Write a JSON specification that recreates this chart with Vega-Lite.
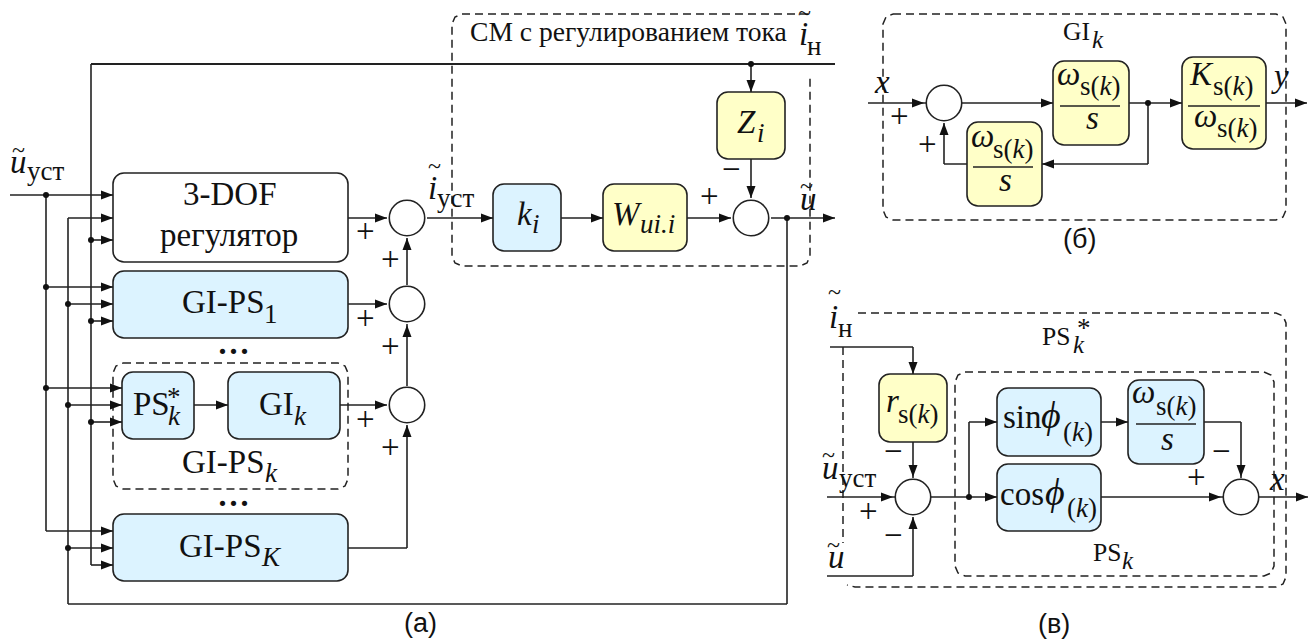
{
"$schema":"https://vega.github.io/schema/vega-lite/v6.json",
"width":1315,"height":639,"padding":0,"autosize":"none","background":"white",
"config":{"view":{"stroke":null}},
"datasets":{
"outlines":[
{"id":"cm","o":1,"x":808,"y":14},{"id":"cm","o":2,"x":462,"y":14},{"id":"cm","o":3,"x":455,"y":17},{"id":"cm","o":4,"x":452,"y":24},{"id":"cm","o":5,"x":452,"y":256},{"id":"cm","o":6,"x":455,"y":263},{"id":"cm","o":7,"x":462,"y":266},{"id":"cm","o":8,"x":800,"y":266},{"id":"cm","o":9,"x":807,"y":263},{"id":"cm","o":10,"x":810,"y":256},{"id":"cm","o":11,"x":810,"y":75},
{"id":"gps","o":1,"x":123,"y":363},{"id":"gps","o":2,"x":338,"y":363},{"id":"gps","o":3,"x":345,"y":366},{"id":"gps","o":4,"x":348,"y":373},{"id":"gps","o":5,"x":348,"y":479},{"id":"gps","o":6,"x":345,"y":486},{"id":"gps","o":7,"x":338,"y":489},{"id":"gps","o":8,"x":123,"y":489},{"id":"gps","o":9,"x":116,"y":486},{"id":"gps","o":10,"x":113,"y":479},{"id":"gps","o":11,"x":113,"y":373},{"id":"gps","o":12,"x":116,"y":366},{"id":"gps","o":13,"x":123,"y":363},
{"id":"gi","o":1,"x":893,"y":14},{"id":"gi","o":2,"x":1276,"y":14},{"id":"gi","o":3,"x":1283,"y":17},{"id":"gi","o":4,"x":1286,"y":24},{"id":"gi","o":5,"x":1286,"y":210},{"id":"gi","o":6,"x":1283,"y":217},{"id":"gi","o":7,"x":1276,"y":220},{"id":"gi","o":8,"x":893,"y":220},{"id":"gi","o":9,"x":886,"y":217},{"id":"gi","o":10,"x":883,"y":210},{"id":"gi","o":11,"x":883,"y":24},{"id":"gi","o":12,"x":886,"y":17},{"id":"gi","o":13,"x":893,"y":14},
{"id":"ps","o":1,"x":965,"y":372},{"id":"ps","o":2,"x":1264,"y":372},{"id":"ps","o":3,"x":1271,"y":375},{"id":"ps","o":4,"x":1274,"y":382},{"id":"ps","o":5,"x":1274,"y":566},{"id":"ps","o":6,"x":1271,"y":573},{"id":"ps","o":7,"x":1264,"y":576},{"id":"ps","o":8,"x":965,"y":576},{"id":"ps","o":9,"x":958,"y":573},{"id":"ps","o":10,"x":955,"y":566},{"id":"ps","o":11,"x":955,"y":382},{"id":"ps","o":12,"x":958,"y":375},{"id":"ps","o":13,"x":965,"y":372},
{"id":"pss","o":1,"x":858,"y":313},{"id":"pss","o":2,"x":1276,"y":313},{"id":"pss","o":3,"x":1283,"y":316},{"id":"pss","o":4,"x":1286,"y":323},{"id":"pss","o":5,"x":1286,"y":577},{"id":"pss","o":6,"x":1283,"y":584},{"id":"pss","o":7,"x":1276,"y":587},{"id":"pss","o":8,"x":855,"y":587},{"id":"pss","o":9,"x":847,"y":585},
{"id":"pss2","o":1,"x":843,"y":347},{"id":"pss2","o":2,"x":843,"y":543}
],
"wires":[
{"g":"bus","x":91,"y":64,"x2":835,"y2":64},
{"g":"wire","x":10,"y":195,"x2":113,"y2":195},{"g":"wire","x":46,"y":195,"x2":46,"y2":531},{"g":"wire","x":46,"y":531,"x2":113,"y2":531},
{"g":"wire","x":68,"y":218,"x2":113,"y2":218},{"g":"wire","x":68,"y":218,"x2":68,"y2":604},{"g":"wire","x":68,"y":604,"x2":787,"y2":604},{"g":"wire","x":787,"y":218,"x2":787,"y2":604},
{"g":"wire","x":91,"y":64,"x2":91,"y2":565},{"g":"wire","x":91,"y":565,"x2":113,"y2":565},{"g":"wire","x":91,"y":240,"x2":113,"y2":240},
{"g":"wire","x":46,"y":287,"x2":113,"y2":287},{"g":"wire","x":68,"y":304,"x2":113,"y2":304},{"g":"wire","x":91,"y":321,"x2":113,"y2":321},
{"g":"wire","x":46,"y":388,"x2":122,"y2":388},{"g":"wire","x":68,"y":405,"x2":122,"y2":405},{"g":"wire","x":91,"y":422,"x2":122,"y2":422},
{"g":"wire","x":68,"y":548,"x2":113,"y2":548},
{"g":"wire","x":348,"y":218,"x2":387,"y2":218},{"g":"wire","x":348,"y":304,"x2":387,"y2":304},{"g":"wire","x":340,"y":405,"x2":387,"y2":405},{"g":"wire","x":194,"y":405,"x2":228,"y2":405},
{"g":"wire","x":348,"y":548,"x2":407,"y2":548},{"g":"wire","x":407,"y":548,"x2":407,"y2":425},{"g":"wire","x":407,"y":386,"x2":407,"y2":324},{"g":"wire","x":407,"y":285,"x2":407,"y2":238},
{"g":"wire","x":427,"y":218,"x2":731,"y2":218},{"g":"wire","x":771,"y":218,"x2":835,"y2":218},{"g":"wire","x":751,"y":64,"x2":751,"y2":198},
{"g":"wire","x":868,"y":103,"x2":1307,"y2":103},{"g":"wire","x":1148,"y":103,"x2":1148,"y2":164},{"g":"wire","x":944,"y":164,"x2":1148,"y2":164},{"g":"wire","x":944,"y":164,"x2":944,"y2":123},
{"g":"wire","x":830,"y":347,"x2":913,"y2":347},{"g":"wire","x":913,"y":347,"x2":913,"y2":478},{"g":"wire","x":827,"y":497,"x2":1308,"y2":497},{"g":"wire","x":969,"y":497,"x2":969,"y2":422},{"g":"wire","x":969,"y":422,"x2":1128,"y2":422},{"g":"wire","x":1204,"y":422,"x2":1241,"y2":422},{"g":"wire","x":1241,"y":422,"x2":1241,"y2":478},{"g":"wire","x":827,"y":576,"x2":913,"y2":576},{"g":"wire","x":913,"y":576,"x2":913,"y2":517}
],
"boxes":[
{"k":"plain","x":113,"y":173,"x2":348,"y2":262},
{"k":"blue","x":113,"y":271,"x2":348,"y2":338},
{"k":"blue","x":122,"y":372,"x2":194,"y2":439},
{"k":"blue","x":228,"y":372,"x2":340,"y2":439},
{"k":"blue","x":113,"y":514,"x2":348,"y2":581},
{"k":"blue","x":493,"y":184,"x2":561,"y2":251},
{"k":"yellow","x":603,"y":184,"x2":687,"y2":251},
{"k":"yellow","x":717,"y":92,"x2":785,"y2":159},
{"k":"yellow","x":1053,"y":61,"x2":1129,"y2":145},
{"k":"yellow","x":1182,"y":57,"x2":1266,"y2":149},
{"k":"yellow","x":967,"y":122,"x2":1042,"y2":206},
{"k":"yellow","x":879,"y":374,"x2":947,"y2":442},
{"k":"blue","x":997,"y":388,"x2":1101,"y2":456},
{"k":"blue","x":997,"y":464,"x2":1101,"y2":531},
{"k":"blue","x":1128,"y":380,"x2":1204,"y2":464}
],
"fractions":[
{"x":1060,"y":106,"x2":1120,"y2":106},{"x":1188,"y":106,"x2":1260,"y2":106},{"x":973,"y":167,"x2":1033,"y2":167},{"x":1136,"y":424,"x2":1196,"y2":424}
],
"circles":[{"x":407,"y":218},{"x":407,"y":304},{"x":407,"y":405},{"x":751,"y":218},{"x":944,"y":103},{"x":913,"y":497},{"x":1241,"y":497}],
"dots":[{"x":46,"y":195},{"x":91,"y":240},{"x":46,"y":287},{"x":68,"y":304},{"x":91,"y":321},{"x":46,"y":388},{"x":68,"y":405},{"x":91,"y":422},{"x":68,"y":548},{"x":751,"y":64},{"x":787,"y":218},{"x":1148,"y":103},{"x":969,"y":497}],
"arrows":[
{"d":"right","x":113,"y":195},{"d":"right","x":113,"y":218},{"d":"right","x":113,"y":240},{"d":"right","x":113,"y":287},{"d":"right","x":113,"y":304},{"d":"right","x":113,"y":321},{"d":"right","x":122,"y":388},{"d":"right","x":122,"y":405},{"d":"right","x":122,"y":422},{"d":"right","x":113,"y":531},{"d":"right","x":113,"y":548},{"d":"right","x":113,"y":565},{"d":"right","x":387,"y":218},{"d":"right","x":387,"y":304},{"d":"right","x":387,"y":405},{"d":"right","x":228,"y":405},{"d":"right","x":493,"y":218},{"d":"right","x":603,"y":218},{"d":"right","x":731,"y":218},{"d":"right","x":835,"y":218},
{"d":"up","x":407,"y":238},{"d":"up","x":407,"y":325},{"d":"up","x":407,"y":425},
{"d":"down","x":751,"y":92},{"d":"down","x":751,"y":198},
{"d":"right","x":924,"y":103},{"d":"right","x":1053,"y":103},{"d":"right","x":1182,"y":103},{"d":"right","x":1307,"y":103},{"d":"left","x":1042,"y":164},{"d":"up","x":944,"y":123},
{"d":"down","x":913,"y":374},{"d":"down","x":913,"y":477},{"d":"down","x":1241,"y":477},{"d":"up","x":913,"y":517},
{"d":"right","x":893,"y":497},{"d":"right","x":997,"y":497},{"d":"right","x":997,"y":422},{"d":"right","x":1128,"y":422},{"d":"right","x":1221,"y":497},{"d":"right","x":1308,"y":497}
],
"serif":[
{"t":"3-DOF","x":183,"y":205,"r":"main"},{"t":"регулятор","x":160,"y":246,"r":"main"},
{"t":"GI-PS","x":182,"y":313,"r":"main"},{"t":"1","x":264,"y":323,"r":"sub"},
{"t":"PS","x":133,"y":415,"r":"main"},{"t":"*","x":167,"y":406,"r":"sub"},
{"t":"GI","x":259,"y":415,"r":"main"},
{"t":"GI-PS","x":182,"y":473,"r":"main"},{"t":"GI-PS","x":179,"y":557,"r":"main"},
{"t":"...","x":217,"y":354,"r":"dots"},{"t":"...","x":217,"y":506,"r":"dots"},
{"t":"уст","x":27,"y":180,"r":"sub"},{"t":"уст","x":437,"y":207,"r":"sub"},{"t":"уст","x":839,"y":487,"r":"sub"},
{"t":"н","x":807,"y":55,"r":"sub"},{"t":"н","x":838,"y":337,"r":"sub"},
{"t":"СМ с регулированием тока","x":470,"y":41,"r":"note"},
{"t":"GI","x":1063,"y":40,"r":"label"},{"t":"PS","x":1042,"y":345,"r":"label"},{"t":"PS","x":1093,"y":561,"r":"label"},
{"t":"*","x":1077,"y":337,"r":"sub"},
{"t":"~","x":12,"y":158,"r":"tilde"},{"t":"~","x":428,"y":174,"r":"tilde"},{"t":"~","x":798,"y":21,"r":"tilde"},{"t":"~","x":800,"y":194,"r":"tilde"},{"t":"~","x":828,"y":300,"r":"tilde"},{"t":"~","x":822,"y":463,"r":"tilde"},{"t":"~","x":827,"y":553,"r":"tilde"},
{"t":"+","x":356,"y":242,"r":"main"},{"t":"+","x":381,"y":270,"r":"main"},{"t":"+","x":356,"y":329,"r":"main"},{"t":"+","x":381,"y":357,"r":"main"},{"t":"+","x":356,"y":430,"r":"main"},{"t":"+","x":381,"y":458,"r":"main"},{"t":"+","x":700,"y":207,"r":"main"},{"t":"−","x":722,"y":180,"r":"main"},
{"t":"+","x":890,"y":127,"r":"main"},{"t":"+","x":918,"y":155,"r":"main"},
{"t":"+","x":859,"y":522,"r":"main"},{"t":"−","x":884,"y":462,"r":"main"},{"t":"−","x":884,"y":546,"r":"main"},{"t":"−","x":1212,"y":462,"r":"main"},{"t":"+","x":1187,"y":488,"r":"main"},
{"t":"s(","x":1080,"y":95,"r":"sub"},{"t":")","x":1111.5,"y":95,"r":"sub"},
{"t":"s(","x":1213,"y":95,"r":"sub"},{"t":")","x":1244.5,"y":95,"r":"sub"},
{"t":"s(","x":1217,"y":137,"r":"sub"},{"t":")","x":1248.5,"y":137,"r":"sub"},
{"t":"s(","x":993,"y":158,"r":"sub"},{"t":")","x":1024.5,"y":158,"r":"sub"},
{"t":"s(","x":898,"y":423,"r":"sub"},{"t":")","x":929.5,"y":423,"r":"sub"},
{"t":"s(","x":1156,"y":415,"r":"sub"},{"t":")","x":1187.5,"y":415,"r":"sub"},
{"t":"sin","x":1003,"y":428,"r":"main"},{"t":"cos","x":1000,"y":505,"r":"main"},
{"t":"(","x":1063,"y":441,"r":"sub"},{"t":")","x":1084,"y":441,"r":"sub"},
{"t":"(","x":1067,"y":517,"r":"sub"},{"t":")","x":1088,"y":517,"r":"sub"}
],
"italic":[
{"t":"u","x":10,"y":173,"r":"main"},{"t":"i","x":428,"y":199,"r":"main"},{"t":"i","x":799,"y":45,"r":"main"},{"t":"u","x":800,"y":210,"r":"main"},{"t":"i","x":829,"y":328,"r":"main"},{"t":"u","x":822,"y":479,"r":"main"},{"t":"u","x":828,"y":568,"r":"main"},
{"t":"k","x":168,"y":425,"r":"sub"},{"t":"k","x":294,"y":425,"r":"sub"},{"t":"k","x":265,"y":482,"r":"sub"},{"t":"K","x":262,"y":566,"r":"sub"},
{"t":"k","x":517,"y":225,"r":"main"},{"t":"i","x":532,"y":233,"r":"sub"},
{"t":"W","x":612,"y":225,"r":"main"},{"t":"ui.i","x":640,"y":233,"r":"sub"},
{"t":"Z","x":737,"y":133,"r":"main"},{"t":"i","x":757,"y":142,"r":"sub"},
{"t":"k","x":1092,"y":48,"r":"labelsub"},{"t":"k","x":1073,"y":353,"r":"labelsub"},{"t":"k","x":1122,"y":569,"r":"labelsub"},
{"t":"x","x":875,"y":93,"r":"main"},{"t":"y","x":1274,"y":87,"r":"main"},{"t":"x","x":1270,"y":490,"r":"main"},
{"t":"ω","x":1057,"y":85,"r":"main"},{"t":"k","x":1099.5,"y":95,"r":"sub"},{"t":"s","x":1086,"y":129,"r":"main"},
{"t":"K","x":1190,"y":85,"r":"main"},{"t":"k","x":1232.5,"y":95,"r":"sub"},
{"t":"ω","x":1194,"y":127,"r":"main"},{"t":"k","x":1236.5,"y":137,"r":"sub"},
{"t":"ω","x":971,"y":147,"r":"main"},{"t":"k","x":1012.5,"y":158,"r":"sub"},{"t":"s","x":999,"y":191,"r":"main"},
{"t":"r","x":886,"y":412,"r":"main"},{"t":"k","x":917.5,"y":423,"r":"sub"},
{"t":"ω","x":1132,"y":403,"r":"main"},{"t":"k","x":1175.5,"y":415,"r":"sub"},{"t":"s","x":1161,"y":450,"r":"main"},
{"t":"ϕ","x":1041,"y":428,"r":"phi"},{"t":"k","x":1072,"y":441,"r":"sub"},
{"t":"ϕ","x":1045,"y":505,"r":"phi"},{"t":"k","x":1076,"y":517,"r":"sub"}
],
"captions":[{"t":"(а)","x":404,"y":632},{"t":"(б)","x":1063,"y":248},{"t":"(в)","x":1038,"y":633}]
},
"encoding":{
"x":{"field":"x","type":"quantitative","scale":{"domain":[0,1315],"nice":false,"zero":false},"axis":null},
"y":{"field":"y","type":"quantitative","scale":{"domain":[639,0],"nice":false,"zero":false},"axis":null}
},
"layer":[
{"data":{"name":"outlines"},"mark":{"type":"line","stroke":"#222222","strokeWidth":1.5,"strokeDash":[8,5]},"encoding":{"detail":{"field":"id"},"order":{"field":"o","type":"quantitative"}}},
{"data":{"name":"wires"},"mark":{"type":"rule","stroke":"#222222"},"encoding":{"x2":{"field":"x2"},"y2":{"field":"y2"},"strokeWidth":{"field":"g","type":"ordinal","scale":{"type":"ordinal","domain":["wire","bus"],"range":[1.6,2.2]},"legend":null}}},
{"data":{"name":"boxes"},"mark":{"type":"rect","cornerRadius":11,"stroke":"#222222","strokeWidth":1.6},"encoding":{"x2":{"field":"x2"},"y2":{"field":"y2"},"color":{"field":"k","type":"nominal","scale":{"domain":["plain","blue","yellow"],"range":["#ffffff","#dcf3ff","#ffffc8"]},"legend":null}}},
{"data":{"name":"fractions"},"mark":{"type":"rule","stroke":"#222222","strokeWidth":1.6},"encoding":{"x2":{"field":"x2"},"y2":{"field":"y2"}}},
{"data":{"name":"circles"},"mark":{"type":"point","shape":"circle","filled":true,"fill":"#ffffff","stroke":"#222222","strokeWidth":1.6,"opacity":1,"size":1257},"encoding":{}},
{"data":{"name":"arrows"},"mark":{"type":"point","shape":"M0,0L-2,-0.75L-2,0.75Z","filled":true,"fill":"#111111","strokeWidth":0,"opacity":1,"size":144},"encoding":{"angle":{"field":"d","type":"ordinal","scale":{"type":"ordinal","domain":["right","down","left","up"],"range":[0,90,180,270]},"legend":null}}},
{"data":{"name":"dots"},"mark":{"type":"point","shape":"circle","filled":true,"fill":"#111111","strokeWidth":0,"opacity":1,"size":36},"encoding":{}},
{"data":{"name":"serif"},"mark":{"type":"text","font":"Liberation Serif","align":"left","baseline":"alphabetic","fill":"#111111"},"encoding":{"text":{"field":"t"},"size":{"field":"r","type":"ordinal","scale":{"type":"ordinal","domain":["main","sub","label","labelsub","tilde","dots","note","phi"],"range":[33,27,25.6,25,24,44,27.6,38]},"legend":null}}},
{"data":{"name":"italic"},"mark":{"type":"text","font":"Liberation Serif","fontStyle":"italic","align":"left","baseline":"alphabetic","fill":"#111111"},"encoding":{"text":{"field":"t"},"size":{"field":"r","type":"ordinal","scale":{"type":"ordinal","domain":["main","sub","label","labelsub","tilde","dots","note","phi"],"range":[33,27,25.6,25,24,44,27.6,38]},"legend":null}}},
{"data":{"name":"captions"},"mark":{"type":"text","font":"Liberation Sans","fontSize":27,"align":"left","baseline":"alphabetic","fill":"#111111"},"encoding":{"text":{"field":"t"}}}
]
}
